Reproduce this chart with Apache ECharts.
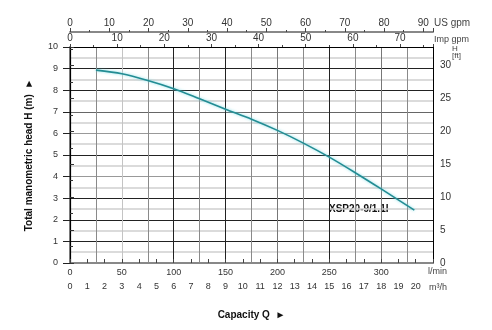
<!DOCTYPE html>
<html>
<head>
<meta charset="utf-8">
<script src="https://cdn.jsdelivr.net/npm/echarts@6/dist/echarts.min.js"></script>
<style>
html,body{margin:0;padding:0;background:#fff;}
#c{width:492px;height:330px;}
</style>
</head>
<body>
<div id="c"></div>
<script>
// ---- data ----
const flowLmin = [25, 50, 75, 100, 125, 150, 175, 200, 225, 250, 275, 300, 332];
const headM    = [8.93, 8.76, 8.45, 8.07, 7.6, 7.12, 6.66, 6.14, 5.55, 4.9, 4.18, 3.43, 2.45];
const seriesName = 'XSP20-9/1.1I';
// axis ranges (all derived from 0..350 l/min and 0..10 m)
const lminMax = 350;
const m3hMax = 21;
const impMax = 350 / 4.54609;
const usMax = 350 / 3.78541;
const headMax = 10;
const ftMax = 10 / 0.3048;

const FONT = '"Liberation Sans", Arial, sans-serif';
const LBL = {color:'#333', fontSize:9, fontFamily:FONT};

const chart = echarts.init(document.getElementById('c'), null, {renderer:'canvas'});
const curve = flowLmin.map((q,i)=>[q, headM[i]]);

chart.setOption({
  animation:false,
  backgroundColor:'#fff',
  grid:{left:70, top:47, width:363, height:216},
  xAxis:[
    { // l/min
      type:'value', position:'bottom', min:0, max:lminMax, interval:50,
      axisLine:{show:true, lineStyle:{color:'#000', width:1}},
      axisTick:{show:false},
      axisLabel:{...LBL, margin:5, formatter:v => v<=300 ? String(v) : ''},
      splitLine:{show:true, lineStyle:{color:['#888','#c4c4c4','#222','#222','#777','#222','#777','#000'], width:1}},
      minorTick:{show:false, splitNumber:2},
      minorSplitLine:{show:true, lineStyle:{color:'#8a8a8a', width:1}}
    },
    { // m3/h
      type:'value', position:'bottom', offset:14, min:0, max:m3hMax, interval:1,
      axisLine:{show:true, lineStyle:{color:'#888', width:2}},
      axisTick:{show:true, inside:true, length:4, lineStyle:{color:'#444'}},
      axisLabel:{...LBL, margin:5, formatter:v => v<=20 ? String(v) : ''},
      splitLine:{show:false},
      name:'Capacity Q  \u25BA', nameLocation:'middle', nameGap:33,
      nameTextStyle:{fontFamily:FONT, fontSize:10, fontWeight:'bold', color:'#111'}
    },
    { // Imp gpm
      type:'value', position:'top', min:0, max:impMax, interval:10,
      axisLine:{show:true, lineStyle:{color:'#000', width:1}},
      axisTick:{show:true, length:3, lineStyle:{color:'#444'}},
      minorTick:{show:true, splitNumber:2, length:2, lineStyle:{color:'#444'}},
      axisLabel:{...LBL, fontSize:10, margin:4, formatter:v => v<=70 ? String(v) : ''},
      splitLine:{show:false}
    },
    { // US gpm
      type:'value', position:'top', offset:15, min:0, max:usMax, interval:10,
      axisLine:{show:true, lineStyle:{color:'#888', width:2}},
      axisTick:{show:true, length:4, lineStyle:{color:'#444'}},
      minorTick:{show:true, splitNumber:2, length:2, lineStyle:{color:'#444'}},
      axisLabel:{...LBL, fontSize:10, margin:4, formatter:v => v<=90 ? String(v) : ''},
      splitLine:{show:false}
    }
  ],
  yAxis:[
    { // H (m)
      type:'value', position:'left', min:0, max:headMax, interval:1,
      axisLine:{show:true, lineStyle:{color:'#888', width:2}},
      axisTick:{show:true, length:7, lineStyle:{color:'#222'}},
      axisLabel:{...LBL, margin:12},
      splitLine:{show:true, lineStyle:{color:['#000','#222','#222','#222','#999','#222','#999','#666','#222','#222','#000'], width:1}},
      minorTick:{show:false, splitNumber:2},
      minorSplitLine:{show:true, lineStyle:{color:'#cfcfcf', width:1.5}},
      name:'Total manometric head H (m)  \u25BA', nameLocation:'middle', nameGap:36, nameRotate:90,
      nameTextStyle:{fontFamily:FONT, fontSize:10, fontWeight:'bold', color:'#111'}
    },
    { // H (ft)
      type:'value', position:'right', min:0, max:ftMax, interval:5,
      axisLine:{show:true, lineStyle:{color:'#000', width:1.2}},
      axisTick:{show:true, length:4, lineStyle:{color:'#333'}},
      minorTick:{show:true, splitNumber:2, length:3, lineStyle:{color:'#333'}},
      axisLabel:{...LBL, fontSize:10, margin:7, formatter:v => v<=30 ? String(v) : ''},
      splitLine:{show:false}
    }
  ],
  graphic:[
    {type:'text', left:434, top:18, style:{text:'US gpm', font:'10px '+FONT, fill:'#444'}},
    {type:'text', left:434, top:35, style:{text:'Imp gpm', font:'9px '+FONT, fill:'#444'}},
    {type:'text', left:452, top:45, style:{text:'H\n[ft]', font:'8px '+FONT, fill:'#444', align:'center', lineHeight:7}},
    {type:'text', left:428, top:267, style:{text:'l/min', font:'9px '+FONT, fill:'#444'}},
    {type:'text', left:429, top:283, style:{text:'m\u00B3/h', font:'9px '+FONT, fill:'#444'}},
    {type:'text', left:329, top:204, style:{text:seriesName, font:'bold 10px '+FONT, fill:'#111'}}
  ],
  series:[{
    type:'line', name:seriesName, xAxisIndex:0, yAxisIndex:0,
    data:curve, smooth:0.3, showSymbol:false,
    lineStyle:{color:'#238c93', width:1.6, shadowColor:'rgba(120,220,230,0.9)', shadowBlur:3}
  }]
});
</script>
</body>
</html>
